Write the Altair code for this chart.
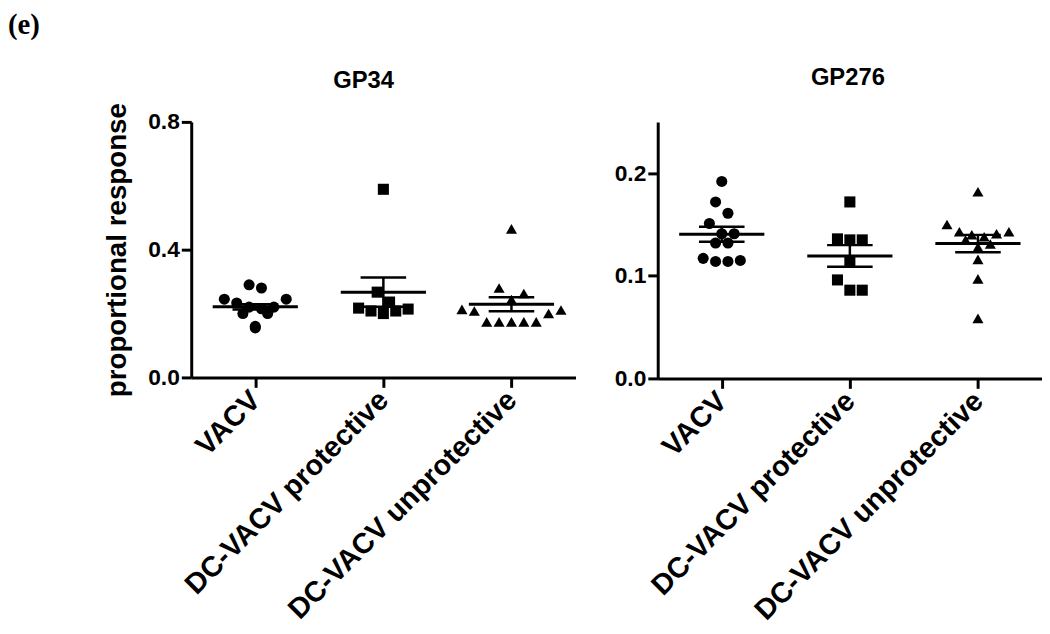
import altair as alt
import pandas as pd

groups = ["VACV", "DC-VACV protective", "DC-VACV unprotective"]
shapes = ["circle", "square", "triangle-up"]

# GP34 (left panel) values
gp34_vacv = [0.290, 0.280, 0.245, 0.245, 0.233, 0.220, 0.220, 0.215, 0.200, 0.200, 0.160, 0.155]
gp34_prot = [0.589, 0.267, 0.236, 0.217, 0.214, 0.208, 0.208, 0.200]
gp34_unprot = [0.465, 0.280, 0.263, 0.244, 0.213, 0.211, 0.208, 0.200,
               0.174, 0.174, 0.174, 0.174, 0.174]
gp34_mean = [0.221, 0.267, 0.229]
gp34_sem = [0.008, 0.046, 0.022]

# GP276 (right panel)
gp276_vacv = [0.192, 0.172, 0.161, 0.151, 0.141, 0.141, 0.132, 0.132, 0.117, 0.115, 0.114, 0.114]
gp276_prot = [0.172, 0.136, 0.135, 0.135, 0.114, 0.096, 0.086, 0.086]
gp276_unprot = [0.182, 0.150, 0.143, 0.143, 0.141, 0.140, 0.138, 0.135, 0.131, 0.128,
                0.116, 0.097, 0.0585]
gp276_mean = [0.1405, 0.1194, 0.1314]
gp276_sem = [0.0073, 0.0105, 0.0085]

PANEL_W = 388
BAND = PANEL_W / 3.0
FONT = "Liberation Sans"


def swarm(vals, px_per_unit, bin_px=14.0, step_px=12.5):
    """Simple row-binned scatter spread (GraphPad-like)."""
    order = sorted(range(len(vals)), key=lambda i: -vals[i])
    rows = []
    for i in order:
        y = vals[i] * px_per_unit
        if rows and rows[-1][0] - y <= bin_px:
            rows[-1][1].append(i)
        else:
            rows.append([y, [i]])
    off = [0.0] * len(vals)
    for _, idx in rows:
        n = len(idx)
        slots = [(k - (n - 1) / 2.0) * step_px for k in range(n)]
        slots.sort(key=lambda s: (-abs(s), s))
        for i, s in zip(idx, slots):
            off[i] = s / BAND
    return off


def panel(title, series, means, sems, ymax, yticks, height, yaxis_title, toffset, tdx):
    ppu = height / ymax
    rows = []
    for gi, vals in enumerate(series):
        offs = swarm(vals, ppu)
        for v, o in zip(vals, offs):
            rows.append({"group": groups[gi], "shape": shapes[gi], "xpos": gi + o, "value": v})
    pts = pd.DataFrame(rows)
    stats = pd.DataFrame({
        "group": groups,
        "idx": [0, 1, 2],
        "mean": means,
        "lo": [m - s for m, s in zip(means, sems)],
        "hi": [m + s for m, s in zip(means, sems)],
    })
    mean_half = 43.0 / BAND
    cap_half = 23.0 / BAND
    stats["m_l"] = stats["idx"] - mean_half
    stats["m_r"] = stats["idx"] + mean_half
    stats["c_l"] = stats["idx"] - cap_half
    stats["c_r"] = stats["idx"] + cap_half

    label_expr = "[" + ",".join("'%s'" % g for g in groups) + "][datum.value]"
    xscale = alt.Scale(domain=[-0.5, 2.5], nice=False, zero=False)
    xaxis = alt.Axis(values=[0, 1, 2], labelExpr=label_expr, labelAngle=-45,
                     labelAlign="right", labelBaseline="middle", labelFontSize=29,
                     labelPadding=8, labelLimit=0, labelOverlap=False, title=None,
                     grid=False)
    yscale = alt.Scale(domain=[0, ymax], nice=False)
    yaxis_kwargs = dict(values=yticks, format=".1f", labelFontSize=23, labelPadding=2,
                        grid=False, labelOverlap=False)
    if yaxis_title:
        yaxis = alt.Axis(title=yaxis_title, titleFontSize=28, titleFont=FONT,
                         titleFontWeight="bold", titlePadding=16, titleColor="black",
                         **yaxis_kwargs)
    else:
        yaxis = alt.Axis(title=None, **yaxis_kwargs)

    points = alt.Chart(pts).mark_point(filled=True, opacity=1, color="black", size=125).encode(
        x=alt.X("xpos:Q", scale=xscale, axis=xaxis),
        y=alt.Y("value:Q", scale=yscale, axis=yaxis),
        shape=alt.Shape("shape:N", scale=None),
    )
    base = alt.Chart(stats)
    vline = base.mark_rule(color="black", strokeWidth=2.5).encode(
        x="idx:Q", y="lo:Q", y2="hi:Q")
    mline = base.mark_rule(color="black", strokeWidth=3).encode(
        x="m_l:Q", x2="m_r:Q", y="mean:Q")
    cap_hi = base.mark_rule(color="black", strokeWidth=2.5).encode(
        x="c_l:Q", x2="c_r:Q", y="hi:Q")
    cap_lo = base.mark_rule(color="black", strokeWidth=2.5).encode(
        x="c_l:Q", x2="c_r:Q", y="lo:Q")
    return alt.layer(points, vline, mline, cap_hi, cap_lo).properties(
        width=PANEL_W, height=height,
        title=alt.TitleParams(title, fontSize=24, font=FONT, fontWeight="bold",
                              offset=toffset, dx=tdx, color="black"),
    )


left = panel("GP34", [gp34_vacv, gp34_prot, gp34_unprot], gp34_mean, gp34_sem,
             0.8, [0.0, 0.4, 0.8], 258, "proportional response", 10, -20)
right = panel("GP276", [gp276_vacv, gp276_prot, gp276_unprot], gp276_mean, gp276_sem,
              0.25, [0.0, 0.1, 0.2], 259, None, 32, -2)

chart = alt.hconcat(left, right, spacing=39).properties(
    title=alt.TitleParams("(e)", anchor="start", font="Liberation Serif", fontSize=29,
                          fontWeight="bold", color="black", dx=-97, offset=27),
    padding={"left": 0, "top": 0, "right": 0, "bottom": 0},
    background="white",
).configure_view(stroke=None).configure_axis(
    grid=False, domainColor="black", domainWidth=3, tickColor="black", tickWidth=3,
    tickSize=10, labelFont=FONT, labelFontWeight="bold", labelColor="black",
)

chart.save("out.html", embed_options={"renderer": "svg", "actions": False})
